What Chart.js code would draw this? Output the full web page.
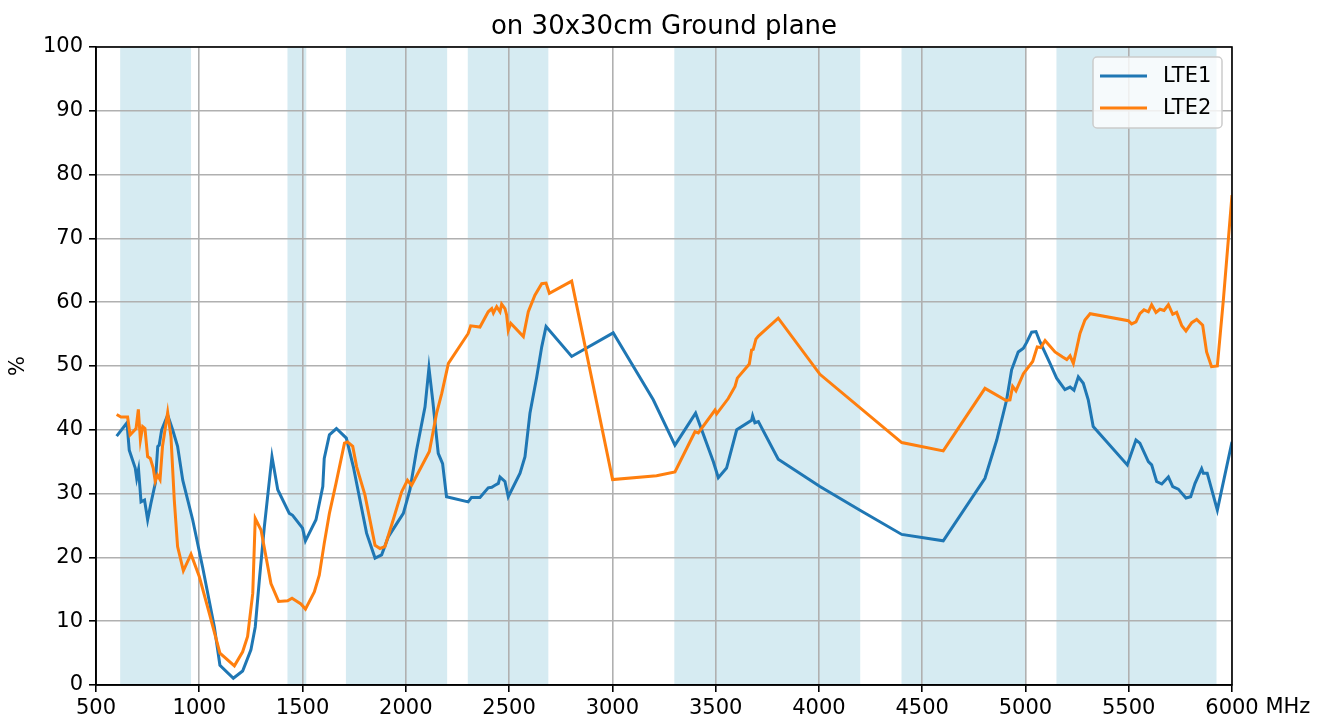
<!DOCTYPE html>
<html>
<head>
<meta charset="utf-8">
<script src="https://cdn.jsdelivr.net/npm/chart.js@4/dist/chart.umd.min.js"></script>
<style>
  html, body { margin: 0; padding: 0; background: #fff; }
  #wrap { width: 1328px; height: 721px; }
</style>
</head>
<body>
<div id="wrap"><canvas id="c" width="1328" height="721"></canvas></div>
<script>
// frequency bands (MHz) shaded in the background
const bandStart = [617, 1427, 1710, 2300, 3300, 4400, 5150];
const bandEnd = [960, 1518, 2200, 2690, 4200, 5000, 5925];

const seriesNames = ["LTE1", "LTE2"];

// LTE1 efficiency (%) vs frequency (MHz)
const lte1Freq = [600, 650, 661, 690, 697, 706, 718, 735, 750, 766, 787, 799, 806, 818, 847, 871, 895, 920, 968, 1016,
    1073, 1100, 1165, 1210, 1250, 1271, 1291, 1315, 1352, 1380, 1436, 1452, 1500, 1514, 1565, 1598, 1605, 1630, 1664, 1712,
    1746, 1778, 1810, 1851, 1883, 1915, 1956, 1988, 2020, 2052, 2093, 2112, 2130, 2157, 2178, 2197, 2302, 2318, 2359, 2399,
    2416, 2432, 2448, 2456, 2480, 2496, 2553, 2577, 2601, 2634, 2658, 2679, 2803, 3004, 3198, 3303, 3403, 3489, 3513, 3553,
    3602, 3674, 3679, 3690, 3707, 3803, 4005, 4199, 4401, 4602, 4804, 4861, 4909, 4933, 4965, 4990, 5006, 5030, 5051, 5070,
    5119, 5151, 5191, 5216, 5235, 5256, 5280, 5304, 5328, 5493, 5535, 5554, 5595, 5611, 5635, 5660, 5692, 5713, 5740, 5777,
    5800, 5821, 5853, 5861, 5880, 5929, 6000];
const lte1Pct = [39.0, 41.1, 36.8, 34.0, 32.4, 33.8, 28.7, 29.0, 25.9, 28.5, 31.6, 37.4, 37.6, 40.0, 42.3, 40.0, 37.4, 32.1, 25.9, 18.5,
    9.1, 3.1, 1.05, 2.2, 5.5, 9.1, 16.5, 24.8, 35.8, 30.6, 26.9, 26.6, 24.6, 22.6, 25.9, 31.1, 35.5, 39.2, 40.2, 38.7,
    34.2, 29.0, 23.8, 19.9, 20.4, 23.2, 25.3, 26.9, 30.6, 36.8, 43.6, 49.7, 44.7, 36.3, 34.7, 29.5, 28.7, 29.4, 29.4, 30.9,
    31.0, 31.3, 31.6, 32.6, 31.9, 29.5, 33.2, 35.8, 42.6, 48.3, 53.0, 56.2, 51.5, 55.2, 44.7, 37.6, 42.6, 35.0, 32.5, 34.0,
    40.0, 41.5, 42.2, 41.1, 41.3, 35.4, 31.1, 27.4, 23.6, 22.6, 32.4, 38.4, 44.7, 49.4, 52.2, 52.8, 53.7, 55.3, 55.4, 53.8,
    50.4, 48.1, 46.3, 46.7, 46.2, 48.3, 47.3, 44.7, 40.5, 34.5, 38.4, 37.9, 35.0, 34.5, 31.9, 31.5, 32.6, 31.1, 30.7, 29.3,
    29.5, 31.6, 33.9, 33.2, 33.2, 27.4, 38.1];

// LTE2 efficiency (%) vs frequency (MHz)
const lte2Freq = [600, 621, 653, 665, 694, 705, 715, 726, 737, 750, 763, 777, 787, 798, 810, 822, 847, 863, 879, 895,
    923, 960, 1000, 1049, 1100, 1170, 1210, 1234, 1259, 1271, 1299, 1347, 1384, 1428, 1449, 1468, 1492, 1514, 1557, 1581,
    1605, 1630, 1662, 1703, 1718, 1743, 1762, 1802, 1851, 1875, 1899, 1939, 1980, 2008, 2028, 2114, 2149, 2174, 2206, 2302,
    2314, 2359, 2399, 2416, 2424, 2440, 2456, 2464, 2480, 2488, 2496, 2508, 2569, 2593, 2625, 2658, 2679, 2695, 2803, 3001,
    3214, 3303, 3400, 3416, 3497, 3505, 3561, 3594, 3605, 3663, 3674, 3682, 3695, 3707, 3803, 4005, 4401, 4602, 4804, 4906,
    4925, 4938, 4954, 4990, 5035, 5057, 5074, 5095, 5143, 5180, 5200, 5216, 5232, 5264, 5288, 5313, 5498, 5514, 5535, 5554,
    5574, 5595, 5611, 5632, 5651, 5671, 5692, 5713, 5732, 5757, 5777, 5805, 5829, 5858, 5877, 5901, 5929, 5958, 6000];
const lte2Pct = [42.4, 42.0, 42.0, 39.2, 40.2, 43.2, 38.4, 40.5, 40.2, 35.8, 35.5, 34.0, 31.9, 32.9, 32.2, 37.4, 42.7, 38.9, 29.0, 21.7,
    17.9, 20.5, 17.0, 11.2, 5.0, 3.0, 5.2, 7.6, 14.4, 26.1, 24.3, 15.9, 13.1, 13.2, 13.6, 13.2, 12.7, 11.9, 14.6, 17.2,
    22.2, 26.9, 31.6, 37.9, 38.1, 37.4, 34.2, 29.8, 21.9, 21.4, 21.7, 25.9, 30.3, 32.1, 31.3, 36.6, 42.6, 45.7, 50.4, 55.1,
    56.3, 56.1, 58.5, 59.0, 58.3, 59.3, 58.5, 59.7, 59.0, 58.0, 55.6, 56.7, 54.6, 58.5, 61.1, 62.9, 63.0, 61.4, 63.3, 32.2,
    32.8, 33.4, 39.7, 39.5, 43.1, 42.5, 44.9, 46.8, 48.1, 50.3, 52.5, 52.6, 54.2, 54.7, 57.5, 48.7, 38.0, 36.7, 46.5, 44.6,
    44.7, 46.8, 46.1, 48.8, 50.7, 53.0, 52.9, 54.0, 52.2, 51.4, 51.0, 51.6, 50.4, 55.1, 57.2, 58.2, 57.1, 56.6, 56.9, 58.2,
    58.8, 58.5, 59.6, 58.4, 58.9, 58.7, 59.6, 58.1, 58.4, 56.3, 55.5, 56.8, 57.3, 56.4, 52.2, 49.9, 50.0, 60.3, 76.8];

const FONT = "'DejaVu Sans', 'Liberation Sans', sans-serif";
const colors = ["#1f77b4", "#ff7f0e"];

function toPoints(xs, ys) {
    return xs.map(function (x, i) { return { x: x, y: ys[i] }; });
}

// background bands, drawn before the grid
const bandPlugin = {
    id: "bands",
    beforeDraw: function (chart) {
        const ctx = chart.ctx, a = chart.chartArea, xs = chart.scales.x;
        ctx.save();
        ctx.fillStyle = "rgba(173, 216, 230, 0.5)";
        bandStart.forEach(function (s, i) {
            const x0 = xs.getPixelForValue(s), x1 = xs.getPixelForValue(bandEnd[i]);
            ctx.fillRect(x0, a.top, x1 - x0, a.bottom - a.top);
        });
        ctx.restore();
    },
};

// frame, title, axis texts and legend box
const decorPlugin = {
    id: "decor",
    afterDraw: function (chart) {
        const ctx = chart.ctx, a = chart.chartArea;
        ctx.save();
        ctx.strokeStyle = "#000";
        ctx.lineWidth = 1.6;
        ctx.strokeRect(a.left, a.top, a.right - a.left, a.bottom - a.top);

        ctx.fillStyle = "#000";
        ctx.font = "26px " + FONT;
        ctx.textAlign = "center";
        ctx.textBaseline = "alphabetic";
        ctx.fillText("on 30x30cm Ground plane", (a.left + a.right) / 2, 34);

        ctx.font = "21px " + FONT;
        ctx.save();
        ctx.translate(24, (a.top + a.bottom) / 2);
        ctx.rotate(-Math.PI / 2);
        ctx.textAlign = "center";
        ctx.fillText("%", 0, 0);
        ctx.restore();

        // unit after the last x tick label
        const w6 = ctx.measureText("6000").width, ws = ctx.measureText(" ").width;
        ctx.textAlign = "left";
        ctx.textBaseline = "top";
        ctx.fillText("MHz", chart.scales.x.getPixelForValue(6000) + w6 / 2 + ws, a.bottom + 12);

        // legend
        const lx = 1093, ly = 57, lw = 129, lh = 71;
        ctx.beginPath();
        ctx.roundRect(lx, ly, lw, lh, 4);
        ctx.fillStyle = "rgba(255, 255, 255, 0.8)";
        ctx.fill();
        ctx.strokeStyle = "#cccccc";
        ctx.lineWidth = 1.5;
        ctx.stroke();
        ctx.textBaseline = "middle";
        seriesNames.forEach(function (name, i) {
            const yy = 76 + i * 32;
            ctx.strokeStyle = colors[i];
            ctx.lineWidth = 3;
            ctx.beginPath();
            ctx.moveTo(1100, yy);
            ctx.lineTo(1147, yy);
            ctx.stroke();
            ctx.fillStyle = "#000";
            ctx.fillText(name, 1163, yy + 1);
        });
        ctx.restore();
    },
};

new Chart(document.getElementById("c"), {
    type: "line",
    data: {
        datasets: [
            {
                label: seriesNames[0],
                data: toPoints(lte1Freq, lte1Pct),
                borderColor: colors[0],
                borderWidth: 3,
                pointRadius: 0,
                tension: 0,
                order: 1,
            },
            {
                label: seriesNames[1],
                data: toPoints(lte2Freq, lte2Pct),
                borderColor: colors[1],
                borderWidth: 3,
                pointRadius: 0,
                tension: 0,
                order: 0,
            },
        ],
    },
    options: {
        responsive: false,
        animation: false,
        events: [],
        layout: { padding: { top: 47, right: 96, left: 0, bottom: 0 } },
        scales: {
            x: {
                type: "linear",
                min: 500,
                max: 6000,
                afterFit: function (s) { s.height = 36; },
                ticks: {
                    stepSize: 500,
                    autoSkip: false,
                    maxRotation: 0,
                    padding: 4,
                    color: "#000",
                    font: { family: FONT, size: 21 },
                    callback: function (v) { return String(v); },
                },
                grid: { color: "#b0b0b0", lineWidth: 1.6, tickColor: "#000", tickLength: 7 },
                border: { color: "#000", width: 1.6 },
            },
            y: {
                min: 0,
                max: 100,
                afterFit: function (s) { s.width = 96; },
                ticks: {
                    stepSize: 10,
                    padding: 6,
                    color: "#000",
                    font: { family: FONT, size: 21 },
                },
                grid: { color: "#b0b0b0", lineWidth: 1.6, tickColor: "#000", tickLength: 7 },
                border: { color: "#000", width: 1.6 },
            },
        },
        plugins: {
            legend: { display: false },
            tooltip: { enabled: false },
        },
    },
    plugins: [bandPlugin, decorPlugin],
});
</script>
</body>
</html>
